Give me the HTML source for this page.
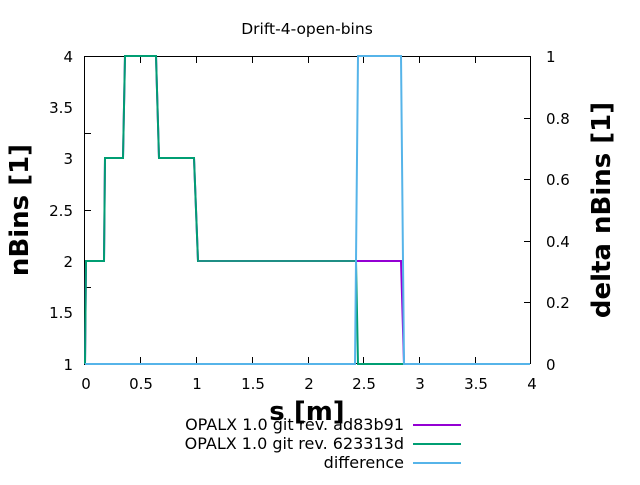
<!DOCTYPE html>
<html><head><style>body{margin:0;background:#fff}</style></head><body>
<svg width="640" height="480" xmlns="http://www.w3.org/2000/svg" font-family="DejaVu Sans, sans-serif">
<rect width="640" height="480" fill="#fff"/>
<text x="307" y="34" font-size="15.5" text-anchor="middle">Drift-4-open-bins</text>
<g stroke="#000" stroke-width="1">
<rect x="84.5" y="56.5" width="446" height="307" fill="none"/>
<path d="M84 133.5h7M84 210.5h7M84 287.5h7M84 364.5h7M84 56.5h7
M524 118.5h7M524 179.5h7M524 241.5h7M524 302.5h7
M140.5 364v-7M196.5 364v-7M252.5 364v-7M308.5 364v-7M363.5 364v-7M419.5 364v-7M475.5 364v-7
M140.5 56v7M196.5 56v7M252.5 56v7M308.5 56v7M363.5 56v7M419.5 56v7M475.5 56v7"/>
</g>
<g font-size="15" text-anchor="end">
<text x="73" y="62">4</text><text x="73" y="113">3.5</text><text x="73" y="164">3</text><text x="73" y="216">2.5</text><text x="73" y="267">2</text><text x="73" y="318">1.5</text><text x="73" y="370">1</text>
</g>
<g font-size="15" text-anchor="start">
<text x="546" y="62">1</text><text x="546" y="124">0.8</text><text x="546" y="185">0.6</text><text x="546" y="247">0.4</text><text x="546" y="308">0.2</text><text x="546" y="370">0</text>
</g>
<g font-size="15" text-anchor="middle">
<text x="86" y="389">0</text><text x="141" y="389">0.5</text><text x="197" y="389">1</text><text x="253" y="389">1.5</text><text x="309" y="389">2</text><text x="364" y="389">2.5</text><text x="420" y="389">3</text><text x="476" y="389">3.5</text><text x="532" y="389">4</text>
</g>
<text x="307" y="420" font-size="26" font-weight="bold" text-anchor="middle">s [m]</text>
<text transform="translate(28,210) rotate(-90)" font-size="26" font-weight="bold" text-anchor="middle">nBins [1]</text>
<text transform="translate(610,210) rotate(-90)" font-size="26" font-weight="bold" text-anchor="middle">delta nBins [1]</text>
<g fill="none" stroke-width="2" stroke-linejoin="miter">
<path stroke="#9400d3" d="M85 364L86 261H104L105 158H123L125 56H156L159 158H194L198 261H401L404 364H530"/>
<path stroke="#009e73" d="M85 364L86 261H104L105 158H123L125 56H156L159 158H194L198 261H356L358 364H530"/>
<path stroke="#56b4e9" d="M85 364H355L358 56H401L404 364H530"/>
<path stroke="#3d7e98" stroke-opacity="0.5" d="M198 261H355"/>
</g>
<g font-size="16" text-anchor="end">
<text x="404" y="430">OPALX 1.0 git rev. ad83b91</text>
<text x="404" y="449">OPALX 1.0 git rev. 623313d</text>
<text x="404" y="468">difference</text>
</g>
<g stroke-width="2">
<path stroke="#9400d3" d="M413 425H461"/>
<path stroke="#009e73" d="M413 444H461"/>
<path stroke="#56b4e9" d="M413 463H461"/>
</g>
</svg>
</body></html>
